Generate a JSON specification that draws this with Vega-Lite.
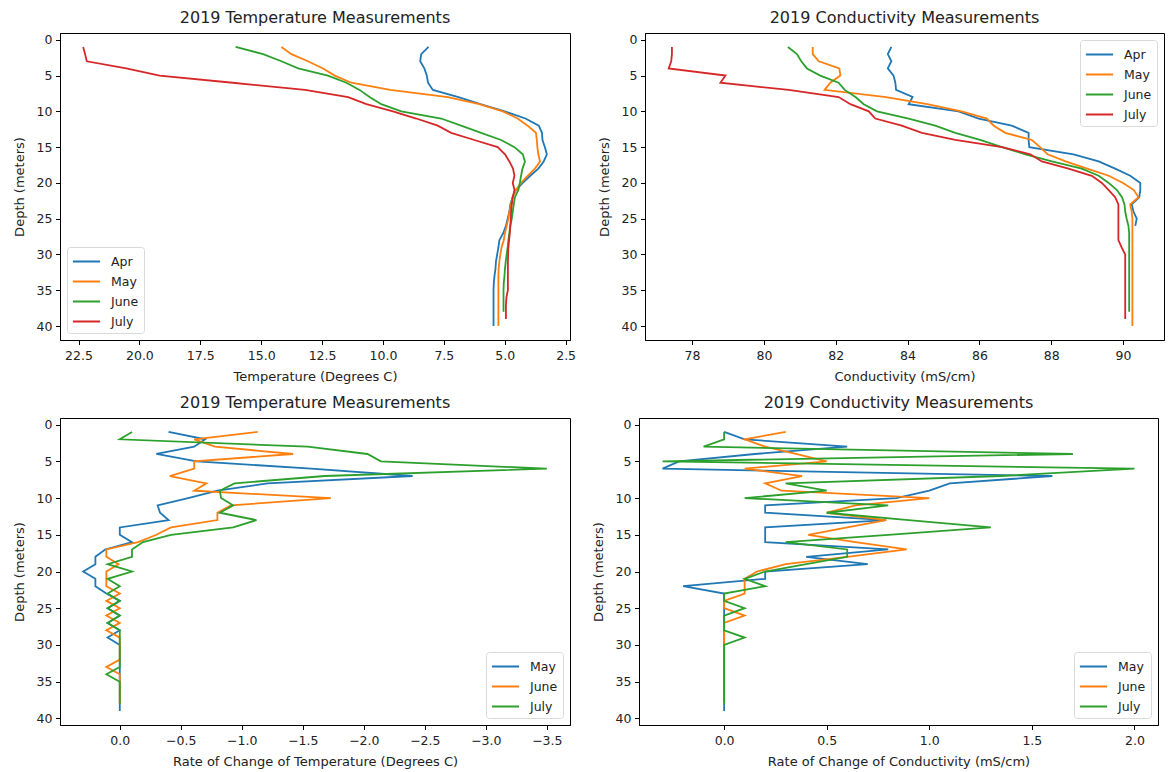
{
  "$schema": "https://vega.github.io/schema/vega-lite/v6.json",
  "padding": {"left": 12, "top": 9, "right": 0, "bottom": 0},
  "config": {
    "font": "DejaVu Sans",
    "view": {"stroke": "#000", "strokeWidth": 1},
    "axis": {"grid": false, "domainColor": "#000", "tickColor": "#000", "tickSize": 4.5, "labelFontSize": 12.5, "labelColor": "#222", "labelFlush": false, "labelOverlap": false, "titleFontSize": 13, "titleFontWeight": "normal", "titleColor": "#222"},
    "axisX": {"labelPadding": 5, "titlePadding": 8},
    "axisY": {"labelPadding": 3.5, "titlePadding": 10},
    "title": {"fontSize": 16, "fontWeight": "normal", "color": "#222", "offset": 7},
    "legend": {"labelFontSize": 12.5, "labelColor": "#222", "symbolStrokeWidth": 2, "strokeColor": "#d9d9d9", "fillColor": "#fff", "cornerRadius": 3, "padding": 5, "offset": 7, "rowPadding": 4, "labelOffset": 15, "symbolOffset": 5}
  },
  "datasets": {
    "temp": [
      {"depth": 1, "Apr": 8.13, "May": 14.17, "June": 16.05, "July": 22.31},
      {"depth": 2, "Apr": 8.43, "May": 13.76, "June": 14.92, "July": 22.23},
      {"depth": 3, "Apr": 8.47, "May": 13.08, "June": 14.17, "July": 22.16},
      {"depth": 4, "Apr": 8.3, "May": 12.46, "June": 13.48, "July": 20.54},
      {"depth": 5, "Apr": 8.2, "May": 11.98, "June": 12.26, "July": 19.17},
      {"depth": 6, "Apr": 8.15, "May": 11.3, "June": 11.5, "July": 16.17},
      {"depth": 7, "Apr": 7.95, "May": 9.7, "June": 10.96, "July": 13.2},
      {"depth": 8, "Apr": 6.9, "May": 7.34, "June": 10.55, "July": 11.43},
      {"depth": 9, "Apr": 6.0, "May": 6.04, "June": 10.07, "July": 10.68},
      {"depth": 10, "Apr": 5.0, "May": 5.08, "June": 9.25, "July": 9.59},
      {"depth": 11, "Apr": 4.15, "May": 4.47, "June": 7.61, "July": 8.63},
      {"depth": 12, "Apr": 3.6, "May": 4.06, "June": 6.79, "July": 7.75},
      {"depth": 13, "Apr": 3.47, "May": 3.72, "June": 5.97, "July": 7.2},
      {"depth": 14, "Apr": 3.45, "May": 3.68, "June": 5.15, "July": 6.25},
      {"depth": 15, "Apr": 3.35, "May": 3.66, "June": 4.6, "July": 5.29},
      {"depth": 16, "Apr": 3.27, "May": 3.62, "June": 4.26, "July": 4.99},
      {"depth": 17, "Apr": 3.4, "May": 3.55, "June": 4.17, "July": 4.81},
      {"depth": 18, "Apr": 3.62, "May": 3.76, "June": 4.27, "July": 4.66},
      {"depth": 19, "Apr": 3.95, "May": 4.06, "June": 4.33, "July": 4.6},
      {"depth": 20, "Apr": 4.26, "May": 4.33, "June": 4.38, "July": 4.67},
      {"depth": 21, "Apr": 4.54, "May": 4.54, "June": 4.44, "July": 4.6},
      {"depth": 22, "Apr": 4.68, "May": 4.68, "June": 4.58, "July": 4.67},
      {"depth": 23, "Apr": 4.77, "May": 4.74, "June": 4.63, "July": 4.71},
      {"depth": 24, "Apr": 4.81, "May": 4.81, "June": 4.67, "July": 4.74},
      {"depth": 25, "Apr": 4.88, "May": 4.85, "June": 4.71, "July": 4.75},
      {"depth": 26, "Apr": 4.95, "May": 4.92, "June": 4.77, "July": 4.77},
      {"depth": 27, "Apr": 5.06, "May": 4.99, "June": 4.81, "July": 4.79},
      {"depth": 28, "Apr": 5.22, "May": 5.04, "June": 4.85, "July": 4.82},
      {"depth": 29, "Apr": 5.26, "May": 5.13, "June": 4.88, "July": 4.85},
      {"depth": 30, "Apr": 5.31, "May": 5.18, "June": 4.92, "July": 4.86},
      {"depth": 31, "Apr": 5.36, "May": 5.22, "June": 4.96, "July": 4.87},
      {"depth": 32, "Apr": 5.38, "May": 5.25, "June": 4.99, "July": 4.87},
      {"depth": 33, "Apr": 5.42, "May": 5.26, "June": 5.01, "July": 4.87},
      {"depth": 34, "Apr": 5.45, "May": 5.26, "June": 5.04, "July": 4.87},
      {"depth": 35, "Apr": 5.46, "May": 5.26, "June": 5.05, "July": 4.87},
      {"depth": 36, "Apr": 5.46, "May": 5.26, "June": 5.05, "July": 4.93},
      {"depth": 37, "Apr": 5.46, "May": 5.26, "June": 5.05, "July": 4.95},
      {"depth": 38, "Apr": 5.46, "May": 5.26, "June": 5.05, "July": 4.95},
      {"depth": 39, "Apr": 5.46, "May": 5.26, "July": 4.95},
      {"depth": 40, "Apr": 5.46, "May": 5.26}
    ],
    "cond": [
      {"depth": 1, "Apr": 83.55, "May": 81.36, "June": 80.67, "July": 77.44},
      {"depth": 2, "Apr": 83.45, "May": 81.36, "June": 80.92, "July": 77.44},
      {"depth": 3, "Apr": 83.55, "May": 81.53, "June": 81.04, "July": 77.42},
      {"depth": 4, "Apr": 83.45, "May": 82.1, "June": 81.2, "July": 77.35},
      {"depth": 5, "Apr": 83.61, "May": 82.13, "June": 81.57, "July": 78.93},
      {"depth": 6, "Apr": 83.66, "May": 81.85, "June": 82.08, "July": 78.79},
      {"depth": 7, "Apr": 83.68, "May": 81.69, "June": 82.25, "July": 80.69},
      {"depth": 8, "Apr": 84.14, "May": 83.4, "June": 82.55, "July": 82.08},
      {"depth": 9, "Apr": 84.03, "May": 84.55, "June": 82.78, "July": 82.41},
      {"depth": 10, "Apr": 85.42, "May": 85.5, "June": 83.15, "July": 82.92},
      {"depth": 11, "Apr": 85.98, "May": 86.21, "June": 84.03, "July": 83.1},
      {"depth": 12, "Apr": 86.9, "May": 86.4, "June": 84.77, "July": 83.84},
      {"depth": 13, "Apr": 87.37, "May": 86.72, "June": 85.33, "July": 84.4},
      {"depth": 14, "Apr": 87.37, "May": 87.46, "June": 86.02, "July": 85.33},
      {"depth": 15, "Apr": 87.39, "May": 87.69, "June": 86.63, "July": 86.63},
      {"depth": 16, "Apr": 88.62, "May": 87.9, "June": 87.28, "July": 87.42},
      {"depth": 17, "Apr": 89.32, "May": 88.4, "June": 88.02, "July": 87.74},
      {"depth": 18, "Apr": 89.78, "May": 89.0, "June": 88.85, "July": 88.48},
      {"depth": 19, "Apr": 90.2, "May": 89.6, "June": 89.32, "July": 89.13},
      {"depth": 20, "Apr": 90.48, "May": 90.0, "June": 89.6, "July": 89.41},
      {"depth": 21, "Apr": 90.48, "May": 90.3, "June": 89.83, "July": 89.6},
      {"depth": 22, "Apr": 90.45, "May": 90.43, "June": 89.97, "July": 89.78},
      {"depth": 23, "Apr": 90.24, "May": 90.2, "June": 90.04, "July": 89.87},
      {"depth": 24, "Apr": 90.29, "May": 90.24, "June": 90.06, "July": 89.87},
      {"depth": 25, "Apr": 90.38, "May": 90.26, "June": 90.1, "July": 89.87},
      {"depth": 26, "Apr": 90.34, "May": 90.26, "June": 90.15, "July": 89.87},
      {"depth": 27, "May": 90.26, "June": 90.17, "July": 89.87},
      {"depth": 28, "May": 90.26, "June": 90.17, "July": 89.87},
      {"depth": 29, "May": 90.26, "June": 90.17, "July": 89.96},
      {"depth": 30, "May": 90.26, "June": 90.17, "July": 90.06},
      {"depth": 31, "May": 90.26, "June": 90.17, "July": 90.06},
      {"depth": 32, "May": 90.26, "June": 90.17, "July": 90.06},
      {"depth": 33, "May": 90.26, "June": 90.17, "July": 90.06},
      {"depth": 34, "May": 90.26, "June": 90.17, "July": 90.06},
      {"depth": 35, "May": 90.26, "June": 90.17, "July": 90.06},
      {"depth": 36, "May": 90.26, "June": 90.17, "July": 90.06},
      {"depth": 37, "May": 90.26, "June": 90.17, "July": 90.06},
      {"depth": 38, "May": 90.26, "June": 90.17, "July": 90.06},
      {"depth": 39, "May": 90.26, "July": 90.06},
      {"depth": 40, "May": 90.26}
    ],
    "dtemp": [
      {"depth": 1, "May": -0.4, "June": -1.13, "July": -0.1},
      {"depth": 2, "May": -0.7, "June": -0.61, "July": 0},
      {"depth": 3, "May": -0.61, "June": -0.78, "July": -1.54},
      {"depth": 4, "May": -0.3, "June": -1.42, "July": -2.03},
      {"depth": 5, "May": -0.63, "June": -0.61, "July": -2.14},
      {"depth": 6, "May": -1.57, "June": -0.61, "July": -3.5},
      {"depth": 7, "May": -2.4, "June": -0.41, "July": -1.68},
      {"depth": 8, "May": -1.21, "June": -0.71, "July": -0.94},
      {"depth": 9, "May": -0.8, "June": -0.61, "July": -0.82},
      {"depth": 10, "May": -0.56, "June": -1.73, "July": -0.83},
      {"depth": 11, "May": -0.31, "June": -0.91, "July": -0.93},
      {"depth": 12, "May": -0.33, "June": -0.8, "July": -0.82},
      {"depth": 13, "May": -0.4, "June": -0.8, "July": -1.12},
      {"depth": 14, "May": 0, "June": -0.42, "July": -0.93},
      {"depth": 15, "May": 0, "June": -0.3, "July": -0.42},
      {"depth": 16, "May": -0.1, "June": -0.15, "July": -0.19},
      {"depth": 17, "May": 0.12, "June": 0.11, "July": -0.1},
      {"depth": 18, "May": 0.2, "June": 0.11, "July": -0.1},
      {"depth": 19, "May": 0.2, "June": 0.01, "July": 0.1},
      {"depth": 20, "May": 0.3, "June": 0.11, "July": -0.1},
      {"depth": 21, "May": 0.2, "June": 0.11, "July": 0.1},
      {"depth": 22, "May": 0.2, "June": 0.11, "July": 0},
      {"depth": 23, "May": 0.11, "June": 0, "July": 0.1},
      {"depth": 24, "May": 0, "June": 0.11, "July": 0},
      {"depth": 25, "May": 0.1, "June": 0, "July": 0.1},
      {"depth": 26, "May": 0, "June": 0.11, "July": 0},
      {"depth": 27, "May": 0.1, "June": 0, "July": 0.1},
      {"depth": 28, "May": 0, "June": 0.11, "July": 0},
      {"depth": 29, "May": 0.1, "June": 0, "July": 0},
      {"depth": 30, "May": 0, "June": 0, "July": 0},
      {"depth": 31, "May": 0, "June": 0, "July": 0},
      {"depth": 32, "May": 0, "June": 0, "July": 0},
      {"depth": 33, "May": 0, "June": 0.11, "July": 0},
      {"depth": 34, "May": 0, "June": 0, "July": 0.11},
      {"depth": 35, "May": 0, "June": 0, "July": 0},
      {"depth": 36, "May": 0, "June": 0, "July": 0},
      {"depth": 37, "May": 0, "June": 0, "July": 0},
      {"depth": 38, "May": 0, "June": 0, "July": 0},
      {"depth": 39, "May": 0}
    ],
    "dcond": [
      {"depth": 1, "May": 0, "June": 0.3, "July": 0},
      {"depth": 2, "May": 0.1, "June": 0.1, "July": 0},
      {"depth": 3, "May": 0.6, "June": 0.2, "July": -0.1},
      {"depth": 4, "May": 0.15, "June": 0.35, "July": 1.7},
      {"depth": 5, "May": -0.22, "June": 0.5, "July": -0.3},
      {"depth": 6, "May": -0.3, "June": 0.1, "July": 2.0},
      {"depth": 7, "May": 1.6, "June": 0.38, "July": 1.35},
      {"depth": 8, "May": 1.1, "June": 0.2, "July": 0.3},
      {"depth": 9, "May": 1.0, "June": 0.28, "July": 0.5},
      {"depth": 10, "May": 0.84, "June": 1.0, "July": 0.1},
      {"depth": 11, "May": 0.2, "June": 0.64, "July": 0.8},
      {"depth": 12, "May": 0.2, "June": 0.5, "July": 0.5},
      {"depth": 13, "May": 0.79, "June": 0.79, "July": 0.9},
      {"depth": 14, "May": 0.2, "June": 0.6, "July": 1.3},
      {"depth": 15, "May": 0.2, "June": 0.41, "July": 0.8},
      {"depth": 16, "May": 0.2, "June": 0.64, "July": 0.3},
      {"depth": 17, "May": 0.8, "June": 0.89, "July": 0.6},
      {"depth": 18, "May": 0.4, "June": 0.6, "July": 0.6},
      {"depth": 19, "May": 0.7, "June": 0.3, "July": 0.4},
      {"depth": 20, "May": 0.2, "June": 0.16, "July": 0.2},
      {"depth": 21, "May": 0.2, "June": 0.1, "July": 0.1},
      {"depth": 22, "May": -0.2, "June": 0.1, "July": 0.2},
      {"depth": 23, "May": 0, "June": 0.1, "July": 0},
      {"depth": 24, "May": 0, "June": 0, "July": 0},
      {"depth": 25, "May": 0, "June": 0, "July": 0.1},
      {"depth": 26, "May": 0, "June": 0.1, "July": 0},
      {"depth": 27, "May": 0, "June": 0, "July": 0},
      {"depth": 28, "May": 0, "June": 0, "July": 0},
      {"depth": 29, "May": 0, "June": 0, "July": 0.1},
      {"depth": 30, "May": 0, "June": 0, "July": 0},
      {"depth": 31, "May": 0, "June": 0, "July": 0},
      {"depth": 32, "May": 0, "June": 0, "July": 0},
      {"depth": 33, "May": 0, "June": 0, "July": 0},
      {"depth": 34, "May": 0, "June": 0, "July": 0},
      {"depth": 35, "May": 0, "June": 0, "July": 0},
      {"depth": 36, "May": 0, "June": 0, "July": 0},
      {"depth": 37, "May": 0, "June": 0, "July": 0},
      {"depth": 38, "May": 0, "June": 0, "July": 0},
      {"depth": 39, "May": 0}
    ]
  },
  "spacing": 10,
  "resolve": {"scale": {"color": "independent", "x": "independent", "y": "independent"}, "legend": {"color": "independent"}},
  "vconcat": [
    {
      "spacing": 20,
      "resolve": {"scale": {"color": "independent", "x": "independent", "y": "independent"}, "legend": {"color": "independent"}},
      "hconcat": [
        {
          "width": 510, "height": 307,
          "title": "2019 Temperature Measurements",
          "data": {"name": "temp"},
          "transform": [{"fold": ["Apr", "May", "June", "July"], "as": ["month", "value"]}, {"filter": "isValid(datum.value)"}],
          "mark": {"type": "line", "strokeWidth": 1.8, "clip": true},
          "encoding": {
            "x": {"field": "value", "type": "quantitative", "scale": {"domain": [2.32, 23.26], "reverse": true, "nice": false, "zero": false}, "axis": {"title": "Temperature (Degrees C)", "values": [22.5, 20, 17.5, 15, 12.5, 10, 7.5, 5, 2.5], "format": ".1f"}},
            "y": {"field": "depth", "type": "quantitative", "scale": {"domain": [-0.95, 41.95], "reverse": true, "nice": false, "zero": false}, "axis": {"title": "Depth (meters)", "values": [0, 5, 10, 15, 20, 25, 30, 35, 40]}},
            "color": {"field": "month", "type": "nominal", "scale": {"domain": ["Apr", "May", "June", "July"], "range": ["#1f77b4", "#ff7f0e", "#2ca02c", "#d62728"]}, "legend": {"title": null, "orient": "bottom-left", "symbolType": "M-1.6,0H1.6", "symbolSize": 289}},
            "order": {"field": "depth", "type": "quantitative"}
          }
        },
        {
          "width": 519, "height": 307,
          "title": "2019 Conductivity Measurements",
          "data": {"name": "cond"},
          "transform": [{"fold": ["Apr", "May", "June", "July"], "as": ["month", "value"]}, {"filter": "isValid(datum.value)"}],
          "mark": {"type": "line", "strokeWidth": 1.8, "clip": true},
          "encoding": {
            "x": {"field": "value", "type": "quantitative", "scale": {"domain": [76.69, 91.14], "nice": false, "zero": false}, "axis": {"title": "Conductivity (mS/cm)", "values": [78, 80, 82, 84, 86, 88, 90], "format": "d"}},
            "y": {"field": "depth", "type": "quantitative", "scale": {"domain": [-0.95, 41.95], "reverse": true, "nice": false, "zero": false}, "axis": {"title": "Depth (meters)", "values": [0, 5, 10, 15, 20, 25, 30, 35, 40]}},
            "color": {"field": "month", "type": "nominal", "scale": {"domain": ["Apr", "May", "June", "July"], "range": ["#1f77b4", "#ff7f0e", "#2ca02c", "#d62728"]}, "legend": {"title": null, "orient": "top-right", "symbolType": "M-1.6,0H1.6", "symbolSize": 289}},
            "order": {"field": "depth", "type": "quantitative"}
          }
        }
      ]
    },
    {
      "spacing": 20,
      "resolve": {"scale": {"color": "independent", "x": "independent", "y": "independent"}, "legend": {"color": "independent"}},
      "hconcat": [
        {
          "width": 510, "height": 307,
          "title": "2019 Temperature Measurements",
          "data": {"name": "dtemp"},
          "transform": [{"fold": ["May", "June", "July"], "as": ["month", "value"]}, {"filter": "isValid(datum.value)"}],
          "mark": {"type": "line", "strokeWidth": 1.8, "clip": true},
          "encoding": {
            "x": {"field": "value", "type": "quantitative", "scale": {"domain": [-3.69, 0.49], "reverse": true, "nice": false, "zero": false}, "axis": {"title": "Rate of Change of Temperature (Degrees C)", "values": [0, -0.5, -1, -1.5, -2, -2.5, -3, -3.5], "format": ".1f"}},
            "y": {"field": "depth", "type": "quantitative", "scale": {"domain": [-0.9, 40.9], "reverse": true, "nice": false, "zero": false}, "axis": {"title": "Depth (meters)", "values": [0, 5, 10, 15, 20, 25, 30, 35, 40]}},
            "color": {"field": "month", "type": "nominal", "scale": {"domain": ["May", "June", "July"], "range": ["#1f77b4", "#ff7f0e", "#2ca02c"]}, "legend": {"title": null, "orient": "bottom-right", "symbolType": "M-1.6,0H1.6", "symbolSize": 289}},
            "order": {"field": "depth", "type": "quantitative"}
          }
        },
        {
          "width": 519, "height": 307,
          "title": "2019 Conductivity Measurements",
          "data": {"name": "dcond"},
          "transform": [{"fold": ["May", "June", "July"], "as": ["month", "value"]}, {"filter": "isValid(datum.value)"}],
          "mark": {"type": "line", "strokeWidth": 1.8, "clip": true},
          "encoding": {
            "x": {"field": "value", "type": "quantitative", "scale": {"domain": [-0.415, 2.115], "nice": false, "zero": false}, "axis": {"title": "Rate of Change of Conductivity (mS/cm)", "values": [0, 0.5, 1, 1.5, 2], "format": ".1f"}},
            "y": {"field": "depth", "type": "quantitative", "scale": {"domain": [-0.9, 40.9], "reverse": true, "nice": false, "zero": false}, "axis": {"title": "Depth (meters)", "values": [0, 5, 10, 15, 20, 25, 30, 35, 40]}},
            "color": {"field": "month", "type": "nominal", "scale": {"domain": ["May", "June", "July"], "range": ["#1f77b4", "#ff7f0e", "#2ca02c"]}, "legend": {"title": null, "orient": "bottom-right", "symbolType": "M-1.6,0H1.6", "symbolSize": 289}},
            "order": {"field": "depth", "type": "quantitative"}
          }
        }
      ]
    }
  ]
}
